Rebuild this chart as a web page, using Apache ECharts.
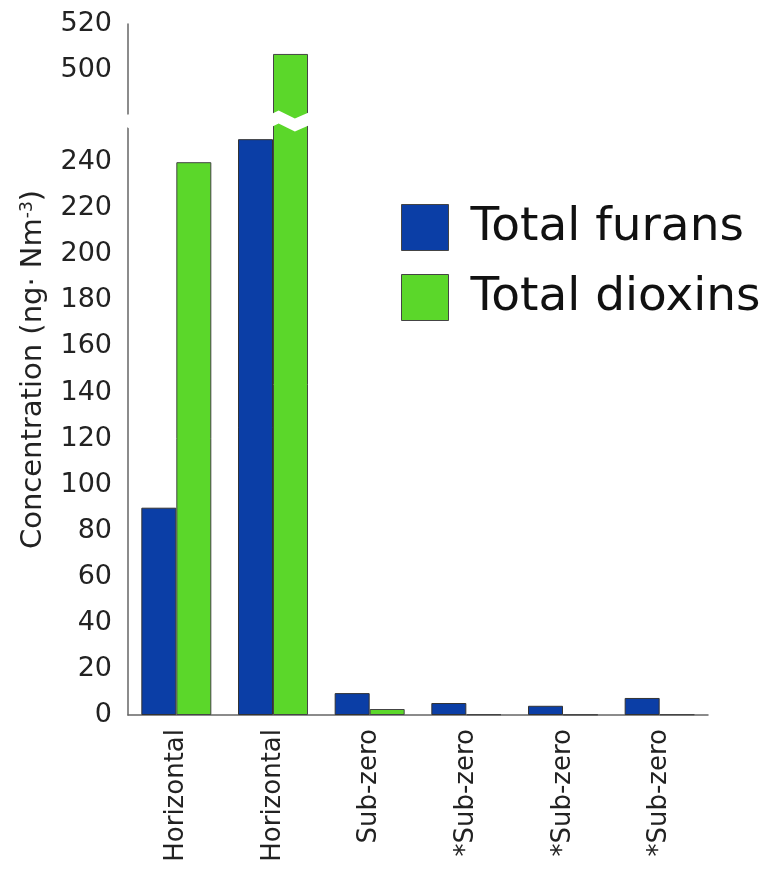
<!DOCTYPE html>
<html>
<head>
<meta charset="utf-8">
<script src="https://cdn.jsdelivr.net/npm/echarts@6/dist/echarts.min.js"></script>
<style>
  html, body { margin: 0; padding: 0; background: #fff; }
  #main { width: 773px; height: 871px; }
</style>
</head>
<body>
<div id="main"></div>
<script>
// 数据
var categories = ['Horizontal', 'Horizontal', 'Sub-zero', '*Sub-zero', '*Sub-zero', '*Sub-zero'];
var furans = [90, 250, 9.5, 5.2, 4.0, 7.4];
var dioxins = [240, 507, 2.6, 0.3, 0.2, 0.3];

var chart = echarts.init(document.getElementById('main'));

var option = {
  backgroundColor: '#ffffff',
  textStyle: { fontFamily: 'DejaVu Sans' },
  grid: { left: 128, right: 65, top: 24, bottom: 156 },
  legend: {
    orient: 'vertical',
    left: 396,
    top: 199,
    icon: 'rect',
    itemWidth: 47,
    itemHeight: 46,
    itemGap: 23,
    itemStyle: { borderColor: '#444', borderWidth: 1 },
    textStyle: { fontSize: 47, color: '#111', fontFamily: 'DejaVu Sans', padding: [0, 0, 0, 17] },
    data: ['Total furans', 'Total dioxins']
  },
  xAxis: {
    type: 'category',
    data: categories,
    axisLine: { lineStyle: { color: '#666', width: 1.5 } },
    axisTick: { show: false },
    axisLabel: { rotate: 90, fontSize: 26, color: '#222', margin: 14 }
  },
  yAxis: {
    type: 'value',
    min: 0,
    max: 520,
    interval: 20,
    breaks: [{ start: 255, end: 481, gap: 6 }],
    breakArea: {
      itemStyle: { color: '#fff', borderColor: 'rgba(0,0,0,0)', borderWidth: 0, opacity: 1 },
      zigzagAmplitude: 4
    },
    name: 'Concentration (ng· Nm{sup|-3})',
    nameLocation: 'middle',
    nameGap: 80,
    nameTextStyle: {
      fontSize: 29, color: '#222',
      rich: { sup: { fontSize: 17, verticalAlign: 'top', color: '#222', padding: [0, 0, 12, 0] } }
    },
    axisLine: { show: true, lineStyle: { color: '#666', width: 1.5 } },
    axisTick: { show: false },
    splitLine: { show: false },
    axisLabel: {
      fontSize: 27, color: '#222', margin: 16,
      formatter: function (v) { return v % 20 === 0 ? String(v) : ''; }
    }
  },
  series: [
    {
      name: 'Total furans',
      type: 'bar',
      data: furans,
      barWidth: 35,
      barGap: '0%',
      itemStyle: { color: '#0b3ea6', borderColor: '#333', borderWidth: 1 }
    },
    {
      name: 'Total dioxins',
      type: 'bar',
      data: dioxins,
      barWidth: 35,
      itemStyle: { color: '#5bd72a', borderColor: '#444', borderWidth: 1 }
    }
  ]
};

chart.setOption(option);
</script>
</body>
</html>
